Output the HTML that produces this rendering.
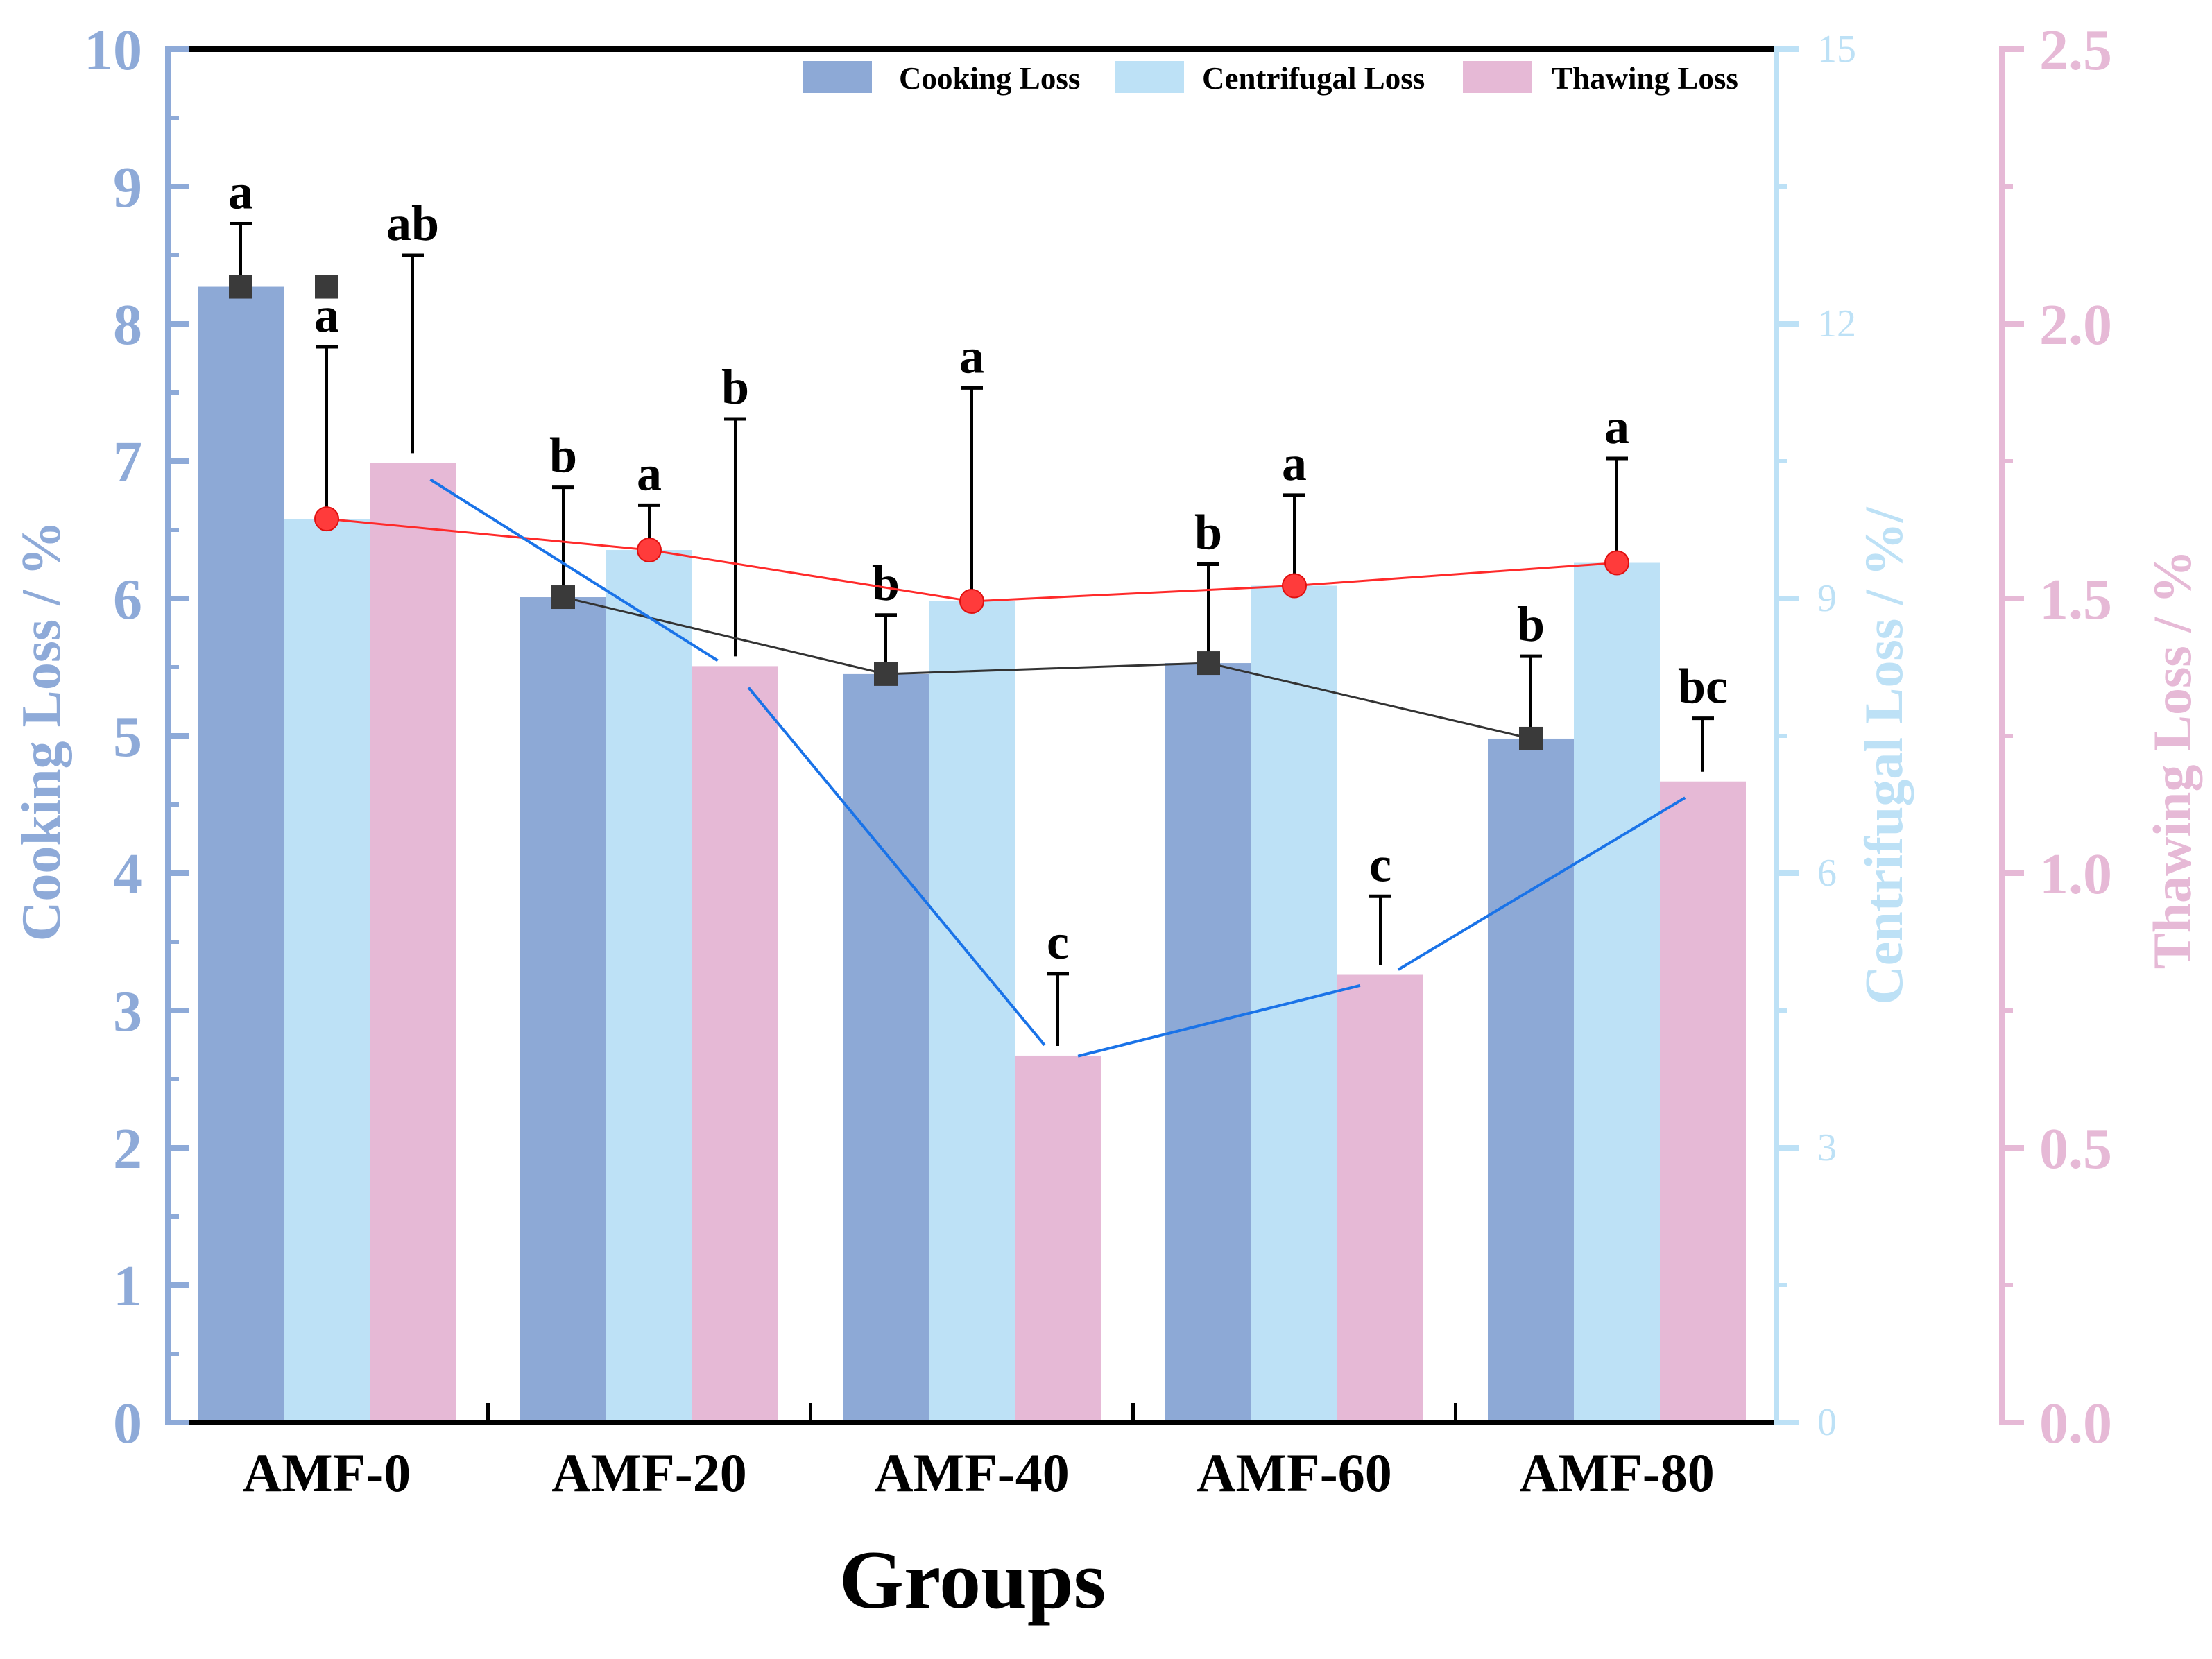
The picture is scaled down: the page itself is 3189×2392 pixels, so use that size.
<!DOCTYPE html>
<html><head><meta charset="utf-8">
<style>
html,body{margin:0;padding:0;background:#fff;}
svg{display:block;}
text{font-family:"Liberation Serif",serif;}
</style></head>
<body>
<svg id="chart" width="3189" height="2392" viewBox="0 0 3189 2392" xmlns="http://www.w3.org/2000/svg">
<rect x="0" y="0" width="3189" height="2392" fill="#fff"/>
<text x="1402" y="2318" text-anchor="middle" font-size="120" font-weight="bold" fill="#000">Groups</text>
<text transform="translate(86,1054) rotate(-90)" text-anchor="middle" font-size="80" font-weight="bold" fill="#8eaad8">Cooking Loss / %</text>
<text transform="translate(2742,1090) rotate(-90)" text-anchor="middle" font-size="78" font-weight="bold" fill="#bde1f6">Centrifugal Loss / %/</text>
<text transform="translate(3158,1095) rotate(-90)" text-anchor="middle" font-size="78" font-weight="bold" fill="#e6b9d6">Thawing Loss / %</text>
<g>
  <rect x="1157" y="88" width="100" height="46" fill="#8da9d6"/>
  <text x="1296" y="128" font-size="45" font-weight="bold" fill="#000">Cooking Loss</text>
  <rect x="1607" y="88" width="100" height="46" fill="#bde1f6"/>
  <text x="1733" y="128" font-size="45" font-weight="bold" fill="#000">Centrifugal Loss</text>
  <rect x="2109" y="88" width="100" height="46" fill="#e6b9d6"/>
  <text x="2237" y="128" font-size="45" font-weight="bold" fill="#000">Thawing Loss</text>
</g>
</svg>
<script>
const categories = ["AMF-0","AMF-20","AMF-40","AMF-60","AMF-80"];
const cookingValues = [8.27, 6.01, 5.45, 5.53, 4.98];
const cookingErrors = [0.46, 0.80, 0.43, 0.72, 0.60];
const cookingLetters = ["a","b","b","b","b"];
const centrifugalValues = [9.87, 9.53, 8.97, 9.14, 9.39];
const centrifugalErrors = [1.88, 0.49, 2.33, 0.99, 1.14];
const centrifugalLetters = ["a","a","a","a","a"];
const thawingValues = [1.747, 1.377, 0.668, 0.815, 1.167];
const thawingErrors = [0.378, 0.45, 0.149, 0.143, 0.115];
const thawingLetters = ["ab","b","c","c","bc"];
const leftTicks = [0,1,2,3,4,5,6,7,8,9,10];
const midTicks = [0,3,6,9,12,15];
const rightTicks = ["0.0","0.5","1.0","1.5","2.0","2.5"];

const svg = document.getElementById('chart');
const NS = 'http://www.w3.org/2000/svg';
function mk(tag, attrs, parent){
  const e = document.createElementNS(NS, tag);
  for (const k in attrs) e.setAttribute(k, attrs[k]);
  (parent||svg).appendChild(e);
  return e;
}
const L = 242, R = 2561, T = 71, B = 2051, R2 = 2886;
const yC = v => B - (v/10)*(B-T);
const yF = v => B - (v/15)*(B-T);
const yT = v => B - (v/2.5)*(B-T);
const groupW = 465, barW = 124;
const xCenter = i => 471 + groupW*i;
const xBar = (i,k) => xCenter(i) + (k-1)*barW;

const COL_C = '#8da9d6', COL_F = '#bde1f6', COL_T = '#e6b9d6';

categories.forEach((c,i)=>{
  let r = mk('rect',{x:xBar(i,0)-barW/2,y:yC(cookingValues[i]),width:barW,height:B-yC(cookingValues[i]),fill:COL_C});
  
  
  r = mk('rect',{x:xBar(i,1)-barW/2,y:yF(centrifugalValues[i]),width:barW,height:B-yF(centrifugalValues[i]),fill:COL_F});
  
  
  r = mk('rect',{x:xBar(i,2)-barW/2,y:yT(thawingValues[i]),width:barW,height:B-yT(thawingValues[i]),fill:COL_T});
  
  
});

function errbar(x, yv, ytop, letter, name){
  const g = mk('g',{});
  
  
  mk('line',{x1:x,y1:yv-14,x2:x,y2:ytop,stroke:'#000','stroke-width':4},g);
  mk('line',{x1:x-16,y1:ytop,x2:x+16,y2:ytop,stroke:'#000','stroke-width':5},g);
  const t = mk('text',{x:x,y:ytop-22,'text-anchor':'middle','font-size':72,'font-weight':'bold',fill:'#000'},g);
  t.textContent = letter;
}
categories.forEach((c,i)=>{
  errbar(xBar(i,0), yC(cookingValues[i]), yC(cookingValues[i]+cookingErrors[i]), cookingLetters[i], 'cooking-error-'+c.toLowerCase());
  errbar(xBar(i,1), yF(centrifugalValues[i]), yF(centrifugalValues[i]+centrifugalErrors[i]), centrifugalLetters[i], 'centrifugal-error-'+c.toLowerCase());
  errbar(xBar(i,2), yT(thawingValues[i]), yT(thawingValues[i]+thawingErrors[i]), thawingLetters[i], 'thawing-error-'+c.toLowerCase());
});

let pts = categories.slice(1).map((c,j)=>xBar(j+1,0)+','+yC(cookingValues[j+1])).join(' ');
let pl = mk('polyline',{points:pts,fill:'none',stroke:'#333','stroke-width':3});


pts = categories.map((c,i)=>xBar(i,1)+','+yF(centrifugalValues[i])).join(' ');
pl = mk('polyline',{points:pts,fill:'none',stroke:'#ff2a2a','stroke-width':3});


for (let i=0;i<categories.length-1;i++){
  const x1=xBar(i,2), y1=yT(thawingValues[i])+8, x2=xBar(i+1,2), y2=yT(thawingValues[i+1])+8;
  const dx=x2-x1, dy=y2-y1, len=Math.hypot(dx,dy), g=30;
  const s = mk('line',{x1:x1+dx/len*g,y1:y1+dy/len*g,x2:x2-dx/len*g,y2:y2-dy/len*g,stroke:'#1a73e8','stroke-width':4});
  
  
}
categories.forEach((c,i)=>{
  const m = mk('rect',{x:xBar(i,0)-17,y:yC(cookingValues[i])-17,width:34,height:34,fill:'#3a3a3a'});
  
  
  const cc = mk('circle',{cx:xBar(i,1),cy:yF(centrifugalValues[i]),r:17,fill:'#ff3b3b',stroke:'#e01010','stroke-width':2});
  
  
});
const st = mk('rect',{x:xBar(0,1)-17,y:yC(cookingValues[0])-17,width:34,height:34,fill:'#3a3a3a'});



const ax = mk('g',{});


mk('line',{x1:L,y1:T,x2:R,y2:T,stroke:'#000','stroke-width':8},ax);
mk('line',{x1:L,y1:B,x2:R,y2:B,stroke:'#000','stroke-width':8},ax);
mk('line',{x1:L,y1:T-4,x2:L,y2:B+4,stroke:'#8eaad8','stroke-width':8},ax);
mk('line',{x1:R,y1:T-4,x2:R,y2:B+4,stroke:'#bde1f6','stroke-width':8},ax);
mk('line',{x1:R2,y1:T-4,x2:R2,y2:B+4,stroke:'#e6b9d6','stroke-width':8},ax);
for (let i=1;i<categories.length;i++){
  const x = xCenter(i)-groupW/2;
  mk('line',{x1:x,y1:B,x2:x,y2:B-28,stroke:'#000','stroke-width':5},ax);
}
leftTicks.forEach(v=>{
  mk('line',{x1:L,y1:yC(v),x2:L+30,y2:yC(v),stroke:'#8eaad8','stroke-width':8},ax);
  if (v<10) mk('line',{x1:L,y1:yC(v+0.5),x2:L+16,y2:yC(v+0.5),stroke:'#8eaad8','stroke-width':6},ax);
  const t = mk('text',{x:205,y:yC(v)+29,'text-anchor':'end','font-size':84,'font-weight':'bold',fill:'#8eaad8'});
  t.textContent = v;
  
  
});
midTicks.forEach(v=>{
  mk('line',{x1:R,y1:yF(v),x2:R+32,y2:yF(v),stroke:'#bde1f6','stroke-width':8},ax);
  if (v<15) mk('line',{x1:R,y1:yF(v+1.5),x2:R+16,y2:yF(v+1.5),stroke:'#bde1f6','stroke-width':6},ax);
  const t = mk('text',{x:2620,y:yF(v)+18,'font-size':56,fill:'#bde1f6'});
  t.textContent = v;
  
  
});
rightTicks.forEach((s,k)=>{
  const v = k*0.5;
  mk('line',{x1:R2,y1:yT(v),x2:R2+32,y2:yT(v),stroke:'#e6b9d6','stroke-width':8},ax);
  if (v<2.5) mk('line',{x1:R2,y1:yT(v+0.25),x2:R2+16,y2:yT(v+0.25),stroke:'#e6b9d6','stroke-width':6},ax);
  const t = mk('text',{x:2940,y:yT(v)+29,'font-size':84,'font-weight':'bold',fill:'#e6b9d6'});
  t.textContent = s;
  
  
});
categories.forEach((c,i)=>{
  const t = mk('text',{x:xCenter(i),y:2150,'text-anchor':'middle','font-size':78,'font-weight':'bold',fill:'#000'});
  t.textContent = c;
  
  
});
</script>
</body></html>
